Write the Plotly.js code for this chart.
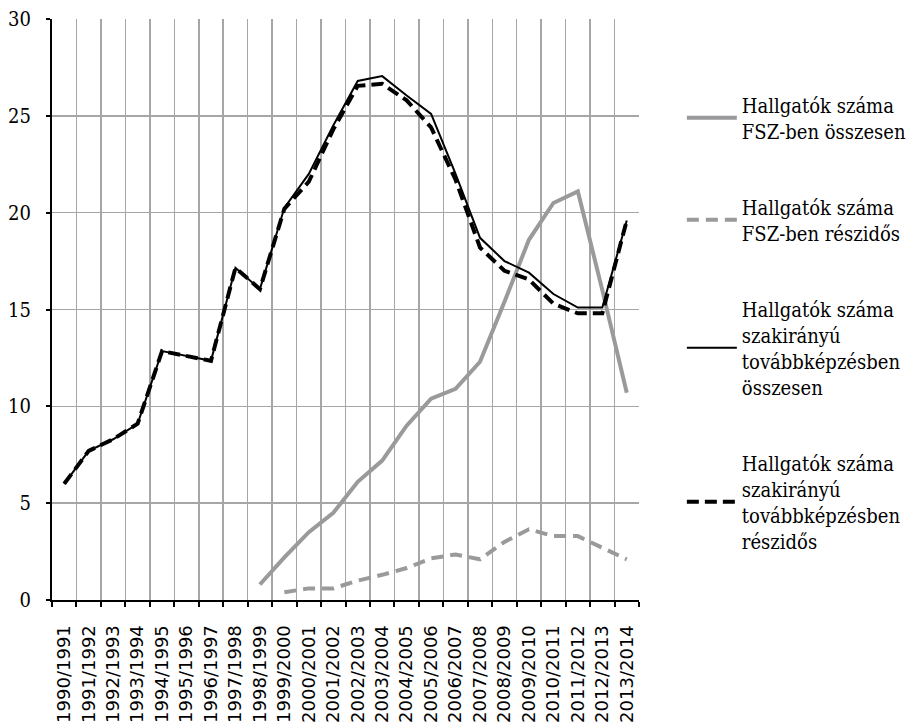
<!DOCTYPE html>
<html>
<head>
<meta charset="utf-8">
<script src="https://cdn.plot.ly/plotly-3.0.1.min.js"></script>
<style>html,body{margin:0;padding:0;background:#fff;}</style>
</head>
<body>
<div id="chart" style="width:913px;height:726px;"></div>
<script>
const categories = ["1990/1991","1991/1992","1992/1993","1993/1994","1994/1995","1995/1996","1996/1997","1997/1998","1998/1999","1999/2000","2000/2001","2001/2002","2002/2003","2003/2004","2004/2005","2005/2006","2006/2007","2007/2008","2008/2009","2009/2010","2010/2011","2011/2012","2012/2013","2013/2014"];
const fszTotal = [null,null,null,null,null,null,null,null,0.8,2.2,3.5,4.5,6.1,7.2,9.0,10.4,10.9,12.3,15.4,18.6,20.5,21.1,16.0,10.7];
const fszPart = [null,null,null,null,null,null,null,null,null,0.4,0.6,0.6,1.0,1.3,1.65,2.15,2.35,2.1,3.0,3.65,3.3,3.3,2.7,2.1];
const szakTotal = [6.0,7.7,8.3,9.1,12.85,12.6,12.35,17.15,16.05,20.25,22.0,24.5,26.8,27.05,26.05,25.1,22.0,18.7,17.5,16.9,15.8,15.1,15.1,19.6];
const szakPart = [6.0,7.7,8.3,9.1,12.85,12.6,12.35,17.15,16.05,20.2,21.6,24.3,26.55,26.65,25.8,24.4,21.7,18.2,17.0,16.55,15.3,14.8,14.8,19.6];
const names = ["Hallgatók száma<br>FSZ-ben összesen","Hallgatók száma<br>FSZ-ben részidős","Hallgatók száma<br>szakirányú<br>továbbképzésben<br>összesen","Hallgatók száma<br>szakirányú<br>továbbképzésben<br>részidős"];

const serif = "DejaVu Serif Condensed, DejaVu Serif";

const traces = [
  {x: categories, y: fszTotal, name: names[0], legendgroup: "a", type: "scatter", mode: "lines", line: {color: "#9a9a9c", width: 4}},
  {x: categories, y: fszPart, name: names[1], legendgroup: "b", type: "scatter", mode: "lines", line: {color: "#9a9a9c", width: 4, dash: "12px,7px"}},
  {x: categories, y: szakTotal, name: names[2], legendgroup: "c", type: "scatter", mode: "lines", line: {color: "#000000", width: 2}},
  {x: categories, y: szakPart, name: names[3], legendgroup: "d", type: "scatter", mode: "lines", line: {color: "#000000", width: 4, dash: "12px,6px"}}
];

const layout = {
  width: 913, height: 726,
  margin: {l: 52, r: 274, t: 19, b: 126, autoexpand: false},
  paper_bgcolor: "#ffffff", plot_bgcolor: "#ffffff",
  showlegend: true,
  legend: {
    x: 1.073, xanchor: "left", y: 0.886, yanchor: "top",
    font: {family: serif, size: 20, color: "#000"},
    traceorder: "grouped", tracegroupgap: 47, valign: "middle",
    bgcolor: "rgba(0,0,0,0)", itemwidth: 50
  },
  xaxis: {
    type: "category", tickson: "boundaries", range: [-0.5, 23.5], autorange: false,
    showgrid: true, gridcolor: "#a6a6a6", gridwidth: 1.5,
    showline: true, linecolor: "#000", linewidth: 2,
    ticks: "outside", ticklen: 5, tickwidth: 2, tickcolor: "#000",
    tickangle: -90, ticklabelstandoff: 16,
    tickfont: {family: "DejaVu Sans", size: 18, color: "#000"},
    fixedrange: true
  },
  yaxis: {
    range: [0, 30], dtick: 5, tick0: 0, autorange: false,
    showgrid: true, gridcolor: "#a6a6a6", gridwidth: 1.5,
    zeroline: false,
    showline: true, linecolor: "#000", linewidth: 2,
    ticks: "outside", ticklen: 4, tickwidth: 2, tickcolor: "#000",
    ticklabelstandoff: 11,
    tickfont: {family: serif, size: 20, color: "#000"},
    fixedrange: true
  }
};

Plotly.newPlot("chart", traces, layout, {displayModeBar: false, staticPlot: true});
</script>
</body>
</html>
